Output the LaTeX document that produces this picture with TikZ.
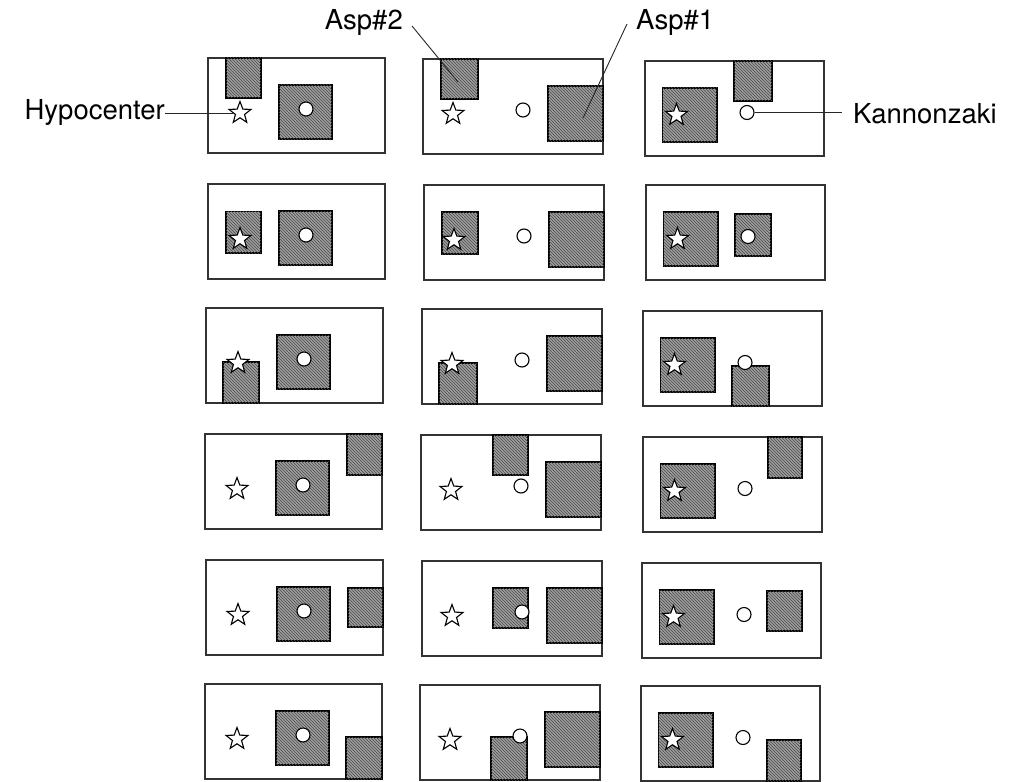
\documentclass[tikz,border=0pt]{standalone}
\usepackage{fontspec}
\setmainfont{TeX Gyre Heros}
\usetikzlibrary{shapes.geometric,patterns}

% one site map per column layout: #1 id, #2/#3 top-left corner, #4 the Asp#2 block
\newcommand\mapleft[4]{%
  \begin{scope}[shift={(#2,#3)}]
    \path[frame] (0,0) rectangle (177,95);
    \path[block] (71,27) rectangle (124,81);
    \path[block] #4;
    \node[stn] (k#1) at (98,51) {};
    \node[epic] (s#1) at (32,55) {};
  \end{scope}}
\newcommand\mapmid[4]{%
  \begin{scope}[shift={(#2,#3)}]
    \path[frame] (0,0) rectangle (180,95);
    \path[block] (125,27) rectangle (180,82);
    \path[block] #4;
    \node[stn] (k#1) at (100,51) {};
    \node[epic] (s#1) at (30,55) {};
  \end{scope}}
\newcommand\mapright[4]{%
  \begin{scope}[shift={(#2,#3)}]
    \path[frame] (0,0) rectangle (179,95);
    \path[block] (17.5,27) rectangle (72,81);
    \path[block] #4;
    \node[stn] (k#1) at (102,51.5) {};
    \node[epic] (s#1) at (31.5,54) {};
  \end{scope}}

\begin{document}
\begin{tikzpicture}[x=1pt,y=-1pt,
  frame/.style={draw=black!80,line width=1.1pt,fill=white},
  block/.style={draw=black,line width=1.5pt,fill=black!38,
    postaction={pattern=north west lines,pattern color=black!70}},
  epic/.style={star,star points=5,star point ratio=2.4,minimum size=23pt,
    inner sep=0pt,draw=black,line width=1.1pt,fill=white},
  stn/.style={circle,minimum size=14pt,inner sep=0pt,draw=black,
    line width=1.1pt,fill=white},
  lbl/.style={inner sep=0pt,font=\fontsize{27.5}{32}\selectfont},
  lead/.style={draw=black!85,line width=0.9pt}]
\useasboundingbox (0,0) rectangle (1016,781);

% row 1
\mapleft{11}{208}{58}{(18,0) rectangle (53,40)}
\mapmid{12}{423}{59}{(18,0) rectangle (55,40)}
\mapright{13}{645}{61}{(89,0) rectangle (127,40)}
% row 2
\mapleft{21}{208}{184}{(18,27.5) rectangle (53,69)}
\mapmid{22}{424}{185}{(18,27) rectangle (54,69)}
\mapright{23}{646}{185}{(89,29) rectangle (125,71)}
% row 3
\mapleft{31}{206}{308}{(17,54) rectangle (53,95)}
\mapmid{32}{422}{309}{(17,54) rectangle (55,95)}
\mapright{33}{643}{311}{(89,55) rectangle (126,95)}
% row 4
\mapleft{41}{205}{434}{(142,0) rectangle (177,41)}
\mapmid{42}{421}{435}{(72,0) rectangle (107,40)}
\mapright{43}{643}{437}{(125,0) rectangle (159,41)}
% row 5
\mapleft{51}{206}{560}{(142,28) rectangle (177,67)}
\mapmid{52}{422}{561}{(71,27) rectangle (106,67)}
\mapright{53}{642}{563}{(125,28) rectangle (160,68)}
% row 6
\mapleft{61}{205}{684}{(141,53) rectangle (177,95)}
\mapmid{62}{420}{685}{(71,52) rectangle (107,95)}
\mapright{63}{641}{686}{(126,54) rectangle (160,95)}

% labels and leaders
\node[lbl,anchor=base east] (hypo) at (165,120) {Hypocenter};
\draw[lead] (hypo.east) -- (hypo.east -| s11.west);

\node[lbl,anchor=base west] (kan) at (853,123) {Kannonzaki};
\draw[lead,shorten >=11pt] (k13.east) -- (k13.east -| kan.west);

\node[lbl,anchor=base east] (asp2) at (403,30) {Asp\#2};
\coordinate (asp2tip) at (458,82);
\draw[lead] ([xshift=9pt,yshift=-3pt]asp2.east) -- (asp2tip);

\node[lbl,anchor=base west] (asp1) at (636,30) {Asp\#1};
\coordinate (asp1tip) at (583,118);
\draw[lead] ([xshift=-9pt,yshift=-1pt]asp1.west) -- (asp1tip);
\end{tikzpicture}
\end{document}
